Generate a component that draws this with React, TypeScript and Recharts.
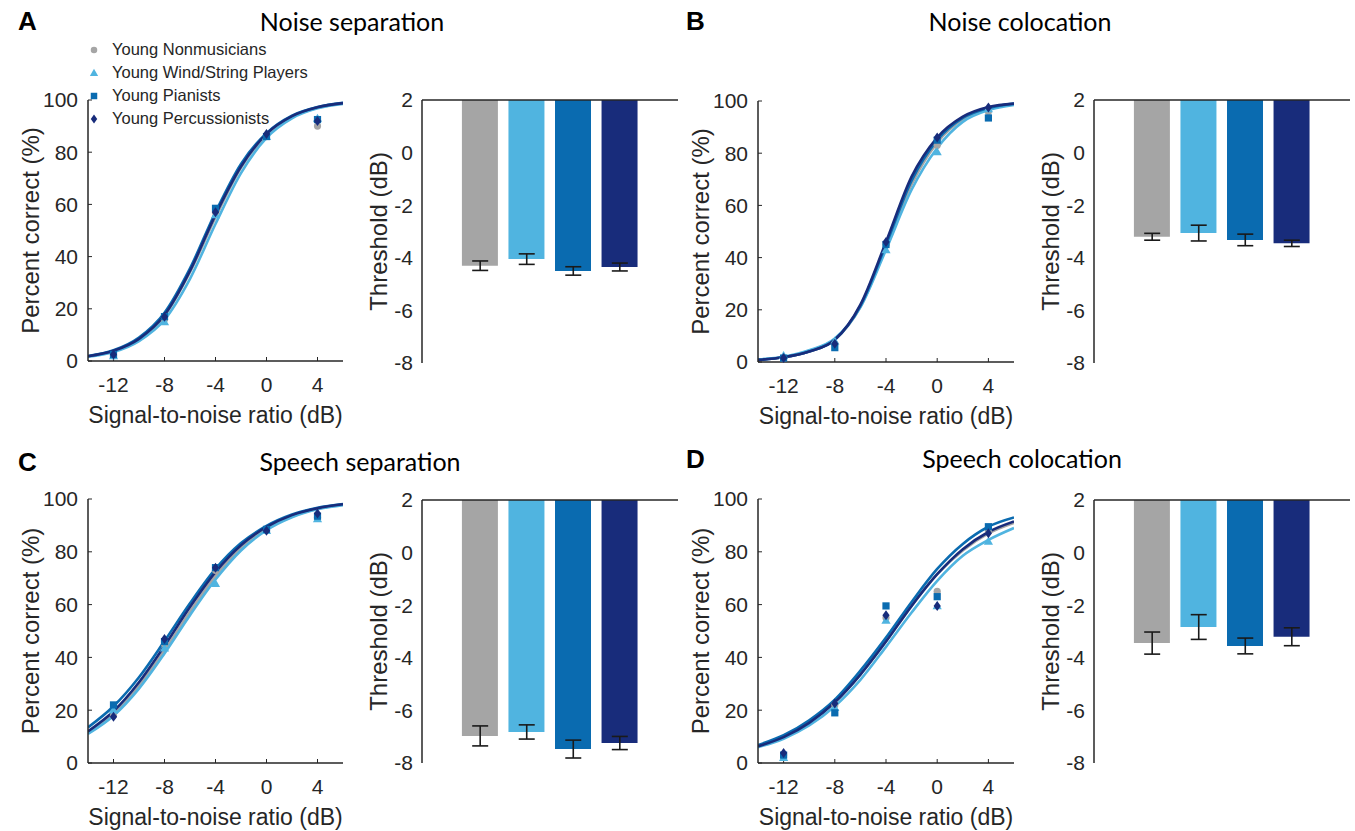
import React from 'react'
import { ComposedChart, Line, Scatter, Bar, Cell, XAxis, YAxis, ErrorBar } from 'recharts'

// groups, shared by every panel
const GROUPS = ['Young Nonmusicians', 'Young Wind/String Players', 'Young Pianists', 'Young Percussionists']
const COLORS = ['#a5a5a5', '#50b4e0', '#0a6bb0', '#182c7b']
const SHAPES = ['circle', 'triangle', 'square', 'diamond']

const SNR_TICKS = [-12, -8, -4, 0, 4]
const PCT_TICKS = [0, 20, 40, 60, 80, 100]
const THR_TICKS = [-8, -6, -4, -2, 0, 2]
const CURVE_X = [-14, -12, -10, -8, -6, -4, -2, 0, 2, 4, 6]
const POINT_X = [-12, -8, -4, 0, 4]
const BAR_POS = [1, 2, 3, 4]

// A. noise separation
const A_CURVES = [
  [1.8, 3.8, 8.3, 17.2, 34, 55, 74, 86.5, 93.5, 97, 98.7],
  [1.6, 3.4, 7.6, 15.8, 31.5, 52.5, 72, 85.5, 93, 96.8, 98.5],
  [1.9, 4.1, 9, 18.5, 35.5, 57, 75.5, 87.3, 94, 97.3, 98.9],
  [1.8, 3.9, 8.5, 17.6, 34.5, 56, 74.5, 87, 93.8, 97.2, 98.8],
]
const A_POINTS = [
  [2, 16, 57, 86, 90],
  [2, 15, 56, 86, 93],
  [2.5, 17, 58.5, 86, 92.5],
  [2.5, 17, 57, 87, 92],
]
const A_THRESH = [-4.3, -4.05, -4.5, -4.35]
const A_ERR = [0.18, 0.2, 0.16, 0.15]

// B. noise colocation
const B_CURVES = [
  [0.8, 1.8, 4, 8.5, 21, 44, 68, 84, 93, 97, 98.8],
  [1, 2, 4.5, 9, 21, 43, 66, 82, 92, 96.5, 98.5],
  [0.8, 1.8, 4, 8.5, 21.5, 45, 69.5, 85, 93.5, 97.3, 99],
  [0.8, 1.8, 4, 8.5, 22, 46, 71, 86, 94, 97.7, 99],
]
const B_POINTS = [
  [1.5, 7, 45, 83, 96],
  [2.5, 8, 43, 80.5, 97],
  [1.5, 5.5, 45, 85, 93.5],
  [1.5, 7, 46, 86, 97.5],
]
const B_THRESH = [-3.2, -3.06, -3.32, -3.45]
const B_ERR = [0.13, 0.3, 0.22, 0.12]

// C. speech separation
const C_CURVES = [
  [11.3, 18.4, 29.2, 42.6, 57.3, 70.8, 81.4, 88.7, 93.4, 96.3, 97.9],
  [11, 17.9, 28.2, 41.5, 56, 69.5, 80.5, 88.2, 93.1, 96.1, 97.7],
  [13.5, 21.5, 32.5, 46.2, 60.5, 73.5, 83.3, 89.8, 94.1, 96.7, 98.1],
  [12, 19.6, 30.6, 44.4, 59.1, 72.3, 82.5, 89.4, 93.9, 96.5, 98],
]
const C_POINTS = [
  [18, 45, 73, 88, 93],
  [20, 43.5, 68, 88, 92.5],
  [22, 46, 74, 88.5, 93.5],
  [17.5, 47, 74, 88, 94.5],
]
const C_THRESH = [-6.97, -6.82, -7.47, -7.24]
const C_ERR = [0.38, 0.27, 0.34, 0.25]

// D. speech colocation
const D_CURVES = [
  [6.5, 10, 15.5, 23, 33.5, 46, 59.5, 71.5, 80.5, 87, 91],
  [6, 9.2, 14.2, 21.5, 31.5, 44, 57, 69, 78.5, 84.5, 89],
  [6.8, 10.5, 16.2, 24, 35, 47.5, 61, 73.5, 83, 89.5, 93],
  [6.3, 9.8, 15.2, 23, 33.5, 46, 59.5, 71.5, 81, 87.5, 91.5],
]
const D_POINTS = [
  [3, 22, 55, 65, 88],
  [2, 21, 54, 59.5, 84],
  [3, 19, 59.5, 63, 89.5],
  [3.8, 22.5, 56, 59.5, 87],
]
const D_THRESH = [-3.44, -2.83, -3.55, -3.2]
const D_ERR = [0.42, 0.47, 0.3, 0.34]

const INK = '#262626'
const FONT = '"Liberation Sans", Arial, Helvetica, sans-serif'

const PANELS = [
  { letter: 'A', title: 'Noise separation', curves: A_CURVES, points: A_POINTS, thr: A_THRESH, err: A_ERR,
    line: { x: 88, y: 100, w: 255, h: 261 }, bar: { x: 422, y: 100, w: 256, h: 263 },
    lpos: { x: 18, y: 6 }, tpos: { x: 352, y: 6 } },
  { letter: 'B', title: 'Noise colocation', curves: B_CURVES, points: B_POINTS, thr: B_THRESH, err: B_ERR,
    line: { x: 758, y: 101, w: 256, h: 261 }, bar: { x: 1094, y: 100, w: 256, h: 263 },
    lpos: { x: 686, y: 6 }, tpos: { x: 1020, y: 6 } },
  { letter: 'C', title: 'Speech separation', curves: C_CURVES, points: C_POINTS, thr: C_THRESH, err: C_ERR,
    line: { x: 88, y: 499, w: 255, h: 264 }, bar: { x: 422, y: 500, w: 256, h: 263 },
    lpos: { x: 18, y: 447 }, tpos: { x: 360, y: 446 } },
  { letter: 'D', title: 'Speech colocation', curves: D_CURVES, points: D_POINTS, thr: D_THRESH, err: D_ERR,
    line: { x: 758, y: 499, w: 256, h: 264 }, bar: { x: 1094, y: 500, w: 256, h: 263 },
    lpos: { x: 686, y: 444 }, tpos: { x: 1022, y: 443 } },
]

function Marker({ cx, cy, kind, color, s = 1 }: any) {
  if (cx == null || cy == null) return null
  if (kind === 'circle') return <circle cx={cx} cy={cy} r={3.6 * s} fill={color} />
  if (kind === 'triangle')
    return <polygon points={`${cx},${cy - 4.6 * s} ${cx + 4.6 * s},${cy + 3.4 * s} ${cx - 4.6 * s},${cy + 3.4 * s}`} fill={color} />
  if (kind === 'square') return <rect x={cx - 3.6 * s} y={cy - 3.6 * s} width={7.2 * s} height={7.2 * s} fill={color} />
  return <polygon points={`${cx},${cy - 5 * s} ${cx + 3.6 * s},${cy} ${cx},${cy + 5 * s} ${cx - 3.6 * s},${cy}`} fill={color} />
}

function SnrChart({ p }: any) {
  const { x, y, w, h } = p.line
  const yw = 116, xh = 108, mt = 15, mr = 12
  const rows = CURVE_X.map((sx, i) => {
    const r: any = { x: sx }
    p.curves.forEach((c: number[], g: number) => { r['g' + g] = c[i] })
    return r
  })
  return (
    <div style={{ position: 'absolute', left: x - yw, top: y - mt }}>
      <ComposedChart width={yw + w + mr} height={mt + h + xh} data={rows} margin={{ top: mt, right: mr, left: 0, bottom: 0 }}>
        <XAxis type="number" dataKey="x" domain={[-14, 6]} ticks={SNR_TICKS} interval={0} allowDataOverflow height={xh}
          axisLine={{ stroke: INK, strokeWidth: 1.5 }} tickLine={{ stroke: INK }} tickSize={-4} tickMargin={20}
          tick={{ fill: INK, fontSize: 21, fontFamily: FONT }}
          label={{ value: 'Signal-to-noise ratio (dB)', position: 'center', fill: INK, fontSize: 23, fontFamily: FONT }} />
        <YAxis type="number" domain={[0, 100]} ticks={PCT_TICKS} interval={0} width={yw}
          axisLine={{ stroke: INK, strokeWidth: 1.5 }} tickLine={{ stroke: INK }} tickSize={-4} tickMargin={14}
          tick={{ fill: INK, fontSize: 21, fontFamily: FONT }}
          label={{ value: 'Percent correct (%)', angle: -90, position: 'center', fill: INK, fontSize: 24, fontFamily: FONT }} />
        {GROUPS.map((g, i) => (
          <Line key={g} dataKey={'g' + i} type="monotone" stroke={COLORS[i]} strokeWidth={2.6} dot={false} isAnimationActive={false} />
        ))}
        {GROUPS.map((g, i) => (
          <Scatter key={'s' + g} data={POINT_X.map((px, k) => ({ x: px, y: p.points[i][k] }))} dataKey="y"
            isAnimationActive={false}
            shape={(sp: any) => <Marker cx={sp.cx} cy={sp.cy} kind={SHAPES[i]} color={COLORS[i]} />} />
        ))}
      </ComposedChart>
    </div>
  )
}

function ThresholdChart({ p }: any) {
  const { x, y, w, h } = p.bar
  const yw = 88, mt = 14, mr = 4, mb = 14
  const rows = BAR_POS.map((pos, i) => ({ pos, t: p.thr[i], e: p.err[i], range: [p.thr[i], 2] }))
  return (
    <div style={{ position: 'absolute', left: x - yw, top: y - mt }}>
      <ComposedChart width={yw + w + mr} height={mt + h + mb} data={rows} margin={{ top: mt - 1, right: mr, left: 0, bottom: mb }}>
        <XAxis type="number" dataKey="pos" orientation="top" domain={[-0.25, 5.25]} allowDataOverflow height={1}
          axisLine={{ stroke: INK, strokeWidth: 1.5 }} tick={false} tickLine={false} />
        <YAxis type="number" domain={[-8, 2]} ticks={THR_TICKS} interval={0} width={yw}
          axisLine={{ stroke: INK, strokeWidth: 1.5 }} tickLine={false} tickSize={0} tickMargin={9}
          tick={{ fill: INK, fontSize: 21, fontFamily: FONT }}
          label={{ value: 'Threshold (dB)', angle: -90, position: 'center', fill: INK, fontSize: 24, fontFamily: FONT }} />
        <Bar dataKey="range" barSize={36} isAnimationActive={false}>
          {rows.map((r, i) => <Cell key={i} fill={COLORS[i]} />)}
        </Bar>
        <Scatter dataKey="t" isAnimationActive={false} shape={() => <g />}>
          <ErrorBar dataKey="e" direction="y" width={8} stroke="#1a1a1a" strokeWidth={1.6} />
        </Scatter>
      </ComposedChart>
    </div>
  )
}

export default function App() {
  return (
    <div style={{ position: 'absolute', left: 0, top: 0, width: 1355, height: 831, background: '#fff', fontFamily: FONT, color: INK }}>
      {PANELS.map(p => (
        <React.Fragment key={p.letter}>
          <div style={{ position: 'absolute', left: p.lpos.x, top: p.lpos.y, fontSize: 26, fontWeight: 'bold', color: '#000' }}>{p.letter}</div>
          <div style={{ position: 'absolute', left: p.tpos.x, top: p.tpos.y, transform: 'translateX(-50%)', whiteSpace: 'nowrap',
            fontFamily: 'Lato, "Open Sans", sans-serif', fontSize: 25, color: '#000' }}>{p.title}</div>
          <SnrChart p={p} />
          <ThresholdChart p={p} />
        </React.Fragment>
      ))}
      <div style={{ position: 'absolute', left: 86, top: 38 }}>
        {GROUPS.map((g, i) => (
          <div key={g} style={{ display: 'flex', alignItems: 'center', height: 23, fontSize: 16.5, whiteSpace: 'nowrap' }}>
            <svg width={18} height={14} style={{ marginRight: 8 }}>
              <Marker cx={8} cy={7} kind={SHAPES[i]} color={COLORS[i]} s={0.9} />
            </svg>
            {g}
          </div>
        ))}
      </div>
    </div>
  )
}
